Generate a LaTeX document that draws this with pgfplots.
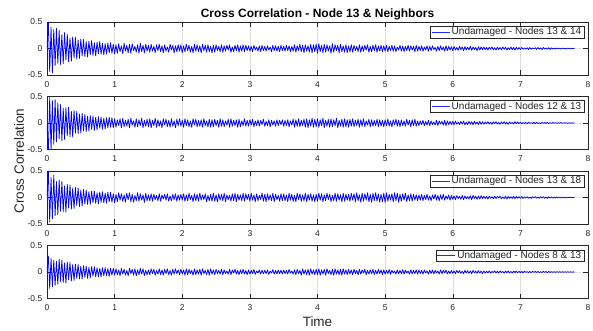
\documentclass[border=0pt]{standalone}
\usepackage{pgfplots}
\pgfplotsset{compat=1.18}
\usepackage{pgfplotstable}
\usepackage{fontspec}
\setmainfont{Liberation Sans}
\setsansfont{Liberation Sans}
\definecolor{axc}{RGB}{38,38,38}
\definecolor{gridc}{RGB}{222,222,222}
\pgfplotstableread{
x a b c d
0.00 .02 -.05 .03 .00
0.02 .50 -.56 .50 .30
0.04 -.44 .48 -.46 -.31
0.06 .40 -.52 .38 .26
0.08 -.46 .42 -.40 -.28
0.10 .36 -.40 .42 .22
0.12 -.32 .44 -.34 -.25
0.14 .38 -.36 .30 .20
0.16 -.28 .38 -.32 -.23
0.18 .34 -.30 .33 .24
0.20 -.30 .35 -.26 -.18
0.22 .26 -.33 .30 .22
0.24 -.29 .28 -.27 -.20
0.26 .30 -.31 .22 .17
0.28 -.22 .29 -.28 -.21
0.30 .27 -.24 .25 .19
0.32 -.25 .30 -.20 -.15
0.34 .20 -.26 .24 .18
0.36 -.24 .22 -.22 -.17
0.38 .22 -.27 .18 .14
0.40 -.18 .24 -.21 -.16
0.42 .21 -.19 .19 .15
0.44 -.20 .22 -.15 -.12
0.46 .16 -.20 .18 .14
0.48 -.19 .17 -.17 -.13
0.50 .18 -.19 .14 .11
0.52 -.14 .18 -.16 -.13
0.54 .17 -.15 .15 .12
0.56 -.15 .16 -.12 -.10
0.58 .13 -.16 .14 .11
0.60 -.16 .13 -.13 -.12
0.62 .14 -.15 .11 .09
0.64 -.12 .14 -.13 -.11
0.66 .15 -.12 .12 .10
0.68 -.13 .13 -.10 -.08
0.70 .11 -.14 .12 .10
0.72 -.14 .11 -.11 -.09
0.74 .12 -.13 .09 .08
0.76 -.10 .12 -.12 -.09
0.78 .13 -.10 .10 .07
0.80 -.11 .11 -.09 -.09
0.82 .10 -.12 .11 .08
0.84 -.12 .09 -.10 -.07
0.86 .09 -.11 .08 .08
0.88 -.11 .10 -.11 -.07
0.90 .10 -.09 .10 .06
0.92 -.08 .11 -.08 -.08
0.94 .11 -.08 .10 .07
0.96 -.09 .10 -.09 -.06
0.98 .08 -.09 .07 .07
1.00 -.10 .08 -.10 -.06
1.02 .07 -.08 .06 .06
1.04 -.09 .06 -.08 -.05
1.06 .09 -.05 .09 .04
1.08 -.06 .08 -.05 -.07
1.10 .05 -.09 .07 .07
1.12 -.10 .09 -.07 -.04
1.14 .10 -.07 .05 .05
1.16 -.05 .05 -.09 -.06
1.18 .06 -.06 .08 .03
1.20 -.08 .07 -.04 -.07
1.22 .08 -.09 .09 .07
1.24 -.09 .09 -.08 -.03
1.26 .09 -.04 .06 .05
1.28 -.04 .04 -.09 -.06
1.30 .04 -.08 .04 .06
1.32 -.07 .08 -.06 -.07
1.34 .07 -.07 .09 .04
1.36 -.09 .06 -.07 -.05
1.38 .10 -.05 .07 .07
1.40 -.06 .09 -.05 -.04
1.42 .06 -.09 .05 .06
1.44 -.08 .05 -.09 -.07
1.46 .08 -.06 .08 .03
1.48 -.05 .07 -.06 -.05
1.50 .06 -.07 .05 .04
1.52 -.07 .08 -.06 -.05
1.54 .08 -.09 .07 .06
1.56 -.05 .05 -.07 -.03
1.58 .04 -.05 .06 .05
1.60 -.08 .09 -.04 -.06
1.62 .07 -.08 .04 .03
1.64 -.04 .06 -.06 -.04
1.66 .08 -.06 .07 .06
1.68 -.06 .04 -.07 -.05
1.70 .05 -.09 .05 .04
1.72 -.08 .08 -.03 -.06
1.74 .07 -.04 .06 .05
1.76 -.05 .07 -.05 -.03
1.78 .03 -.07 .07 .06
1.80 -.07 .05 -.07 -.05
1.82 .08 -.08 .03 .03
1.84 -.03 .08 -.06 -.06
1.86 .06 -.06 .06 .05
1.88 -.08 .04 -.04 -.04
1.90 .05 -.09 .07 .06
1.92 -.06 .07 -.07 -.03
1.94 .07 -.05 .05 .04
1.96 -.05 .08 -.05 -.05
1.98 .07 -.06 .06 .05
2.00 -.08 .05 -.05 -.04
2.02 .05 -.08 .07 .04
2.04 -.06 .08 -.07 -.06
2.06 .08 -.05 .05 .06
2.08 -.04 .06 -.06 -.05
2.10 .06 -.07 .08 .05
2.12 -.07 .04 -.04 -.03
2.14 .04 -.08 .04 .03
2.16 -.08 .08 -.08 -.06
2.18 .08 -.04 .07 .06
2.20 -.05 .07 -.06 -.05
2.22 .07 -.07 .06 .04
2.24 -.06 .05 -.07 -.04
2.26 .05 -.06 .08 .05
2.28 -.08 .06 -.05 -.06
2.30 .08 -.08 .05 .06
2.32 -.04 .08 -.04 -.03
2.34 .06 -.05 .07 .03
2.36 -.07 .04 -.08 -.05
2.38 .07 -.07 .04 .05
2.40 -.06 .07 -.06 -.06
2.42 .04 -.08 .06 .06
2.44 -.08 .06 -.07 -.04
2.46 .06 -.07 .08 .04
2.48 -.07 .07 -.07 -.05
2.50 .07 -.05 .05 .05
2.52 -.04 .05 -.08 -.03
2.54 .04 -.08 .07 .03
2.56 -.06 .08 -.05 -.04
2.58 .07 -.06 .06 .05
2.60 -.07 .06 -.06 -.05
2.62 .05 -.07 .08 .04
2.64 -.05 .04 -.08 -.03
2.66 .06 -.04 .05 .02
2.68 -.03 .07 -.04 -.04
2.70 .07 -.08 .04 .05
2.72 -.07 .08 -.07 -.05
2.74 .03 -.06 .07 .04
2.76 -.06 .05 -.06 -.02
2.78 .06 -.05 .08 .05
2.80 -.04 .06 -.08 -.04
2.82 .07 -.08 .06 .03
2.84 -.07 .07 -.05 -.05
2.86 .05 -.07 .05 .04
2.88 -.05 .04 -.06 -.03
2.90 .07 -.05 .08 .05
2.92 -.06 .08 -.07 -.04
2.94 .06 -.06 .07 .03
2.96 -.04 .05 -.04 -.05
2.98 .05 -.06 .06 .04
3.00 -.05 .06 -.07 -.04
3.02 .04 -.04 .08 .03
3.04 -.06 .07 -.05 -.03
3.06 .06 -.07 .05 .045
3.08 -.03 .04 -.08 -.045
3.10 .03 -.05 .07 .02
3.12 -.05 .06 -.06 -.02
3.14 .05 -.06 .04 .04
3.16 -.06 .05 -.04 -.04
3.18 .06 -.03 .08 .035
3.20 -.04 .07 -.07 -.035
3.22 .04 -.06 .06 .03
3.24 -.05 .03 -.08 -.03
3.26 .05 -.05 .07 .04
3.28 -.03 .06 -.05 -.045
3.30 .03 -.07 .05 .02
3.32 -.06 .05 -.06 -.02
3.34 .06 -.04 .08 .045
3.36 -.04 .04 -.08 -.04
3.38 .05 -.06 .06 .03
3.40 -.05 .06 -.04 -.035
3.42 .04 -.05 .04 .04
3.44 -.06 .05 -.07 -.03
3.46 .06 -.03 .07 .035
3.48 -.04 .06 -.06 -.04
3.50 .04 -.06 .07 .04
3.52 -.05 .05 -.06 -.03
3.54 .06 -.05 .05 .03
3.56 -.04 .06 -.08 -.04
3.58 .05 -.07 .08 .05
3.60 -.06 .04 -.05 -.02
3.62 .04 -.04 .06 .02
3.64 -.05 .07 -.07 -.04
3.66 .07 -.08 .04 .04
3.68 -.07 .06 -.08 -.05
3.70 .05 -.06 .08 .05
3.72 -.04 .08 -.04 -.03
3.74 .08 -.07 .07 .03
3.76 -.06 .05 -.07 -.06
3.78 .06 -.05 .05 .06
3.80 -.08 .07 -.06 -.04
3.82 .07 -.08 .08 .04
3.84 -.05 .08 -.08 -.05
3.86 .05 -.09 .06 .05
3.88 -.07 .06 -.05 -.06
3.90 .08 -.06 .07 .06
3.92 -.08 .09 -.07 -.04
3.94 .07 -.08 .05 .04
3.96 -.06 .07 -.08 -.05
3.98 .08 -.07 .06 .05
4.00 -.09 .08 -.07 -.05
4.02 .09 -.08 .08 .06
4.04 -.06 .06 -.05 -.06
4.06 .06 -.05 .07 .04
4.08 -.08 .09 -.08 -.04
4.10 .08 -.09 .05 .05
4.12 -.07 .05 -.06 -.06
4.14 .07 -.06 .08 .06
4.16 -.05 .07 -.04 -.03
4.18 .05 -.08 .06 .03
4.20 -.09 .08 -.08 -.05
4.22 .09 -.07 .04 .05
4.24 -.07 .06 -.06 -.06
4.26 .07 -.05 .08 .06
4.28 -.04 .09 -.07 -.04
4.30 .06 -.09 .07 .04
4.32 -.08 .05 -.05 -.05
4.34 .08 -.06 .05 .05
4.36 -.06 .07 -.08 -.06
4.38 .05 -.08 .08 .06
4.40 -.07 .08 -.07 -.04
4.42 .07 -.07 .06 .04
4.44 -.08 .06 -.05 -.05
4.46 .05 -.08 .06 .05
4.48 -.06 .07 -.07 -.04
4.50 .07 -.06 .08 .04
4.52 -.07 .08 -.05 -.05
4.54 .06 -.07 .07 .05
4.56 -.04 .05 -.08 -.03
4.58 .04 -.05 .09 .03
4.60 -.06 .07 -.06 -.05
4.62 .07 -.08 .05 .05
4.64 -.07 .06 -.09 -.04
4.66 .05 -.06 .08 .04
4.68 -.05 .08 -.07 -.02
4.70 .06 -.07 .07 .05
4.72 -.03 .04 -.05 -.05
4.74 .07 -.04 .09 .03
4.76 -.07 .07 -.08 -.04
4.78 .04 -.07 .06 .04
4.80 -.06 .06 -.09 -.03
4.82 .06 -.06 .08 .05
4.84 -.04 .05 -.06 -.05
4.86 .07 -.05 .09 .03
4.88 -.07 .07 -.07 -.04
4.90 .05 -.07 .07 .05
4.92 -.05 .06 -.09 -.03
4.94 .06 -.06 .06 .04
4.96 -.06 .05 -.08 -.05
4.98 .05 -.07 .08 .04
5.00 -.05 .06 -.09 -.04
5.02 .06 -.05 .09 .03
5.04 -.06 .07 -.07 -.03
5.06 .04 -.06 .06 .045
5.08 -.04 .04 -.05 -.045
5.10 .06 -.07 .07 .035
5.12 -.05 .06 -.08 -.02
5.14 .05 -.04 .09 .02
5.16 -.06 .07 -.06 -.04
5.18 .03 -.06 .08 .04
5.20 -.03 .05 -.09 -.035
5.22 .06 -.07 .06 .03
5.24 -.05 .06 -.07 -.03
5.26 .05 -.05 .07 .045
5.28 -.06 .04 -.05 -.04
5.30 .04 -.06 .08 .035
5.32 -.04 .07 -.08 -.02
5.34 .06 -.04 .05 .02
5.36 -.05 .05 -.06 -.04
5.38 .05 -.07 .07 .04
5.40 -.03 .06 -.07 -.035
5.42 .04 -.05 .06 .03
5.44 -.06 .07 -.05 -.03
5.46 .06 -.06 .05 .04
5.48 -.05 .04 -.06 -.04
5.50 .04 -.05 .05 .04
5.52 -.04 .04 -.05 -.03
5.54 .05 -.03 .06 .03
5.56 -.05 .05 -.06 -.04
5.58 .03 -.05 .04 .04
5.60 -.03 .03 -.04 -.02
5.62 .05 -.04 .06 .02
5.64 -.05 .05 -.05 -.04
5.66 .04 -.05 .03 .035
5.68 -.04 .04 -.06 -.03
5.70 .05 -.03 .05 .04
5.72 -.02 .02 -.03 -.035
5.74 .02 -.04 .06 .03
5.76 -.05 .05 -.05 -.02
5.78 .04 -.05 .04 .02
5.80 -.04 .04 -.06 -.04
5.82 .05 -.02 .05 .04
5.84 -.03 .03 -.04 -.03
5.86 .03 -.04 .06 .03
5.88 -.05 .05 -.05 -.02
5.90 .05 -.05 .03 .035
5.92 -.04 .04 -.03 -.035
5.94 .04 -.03 .05 .02
5.96 -.03 .03 -.05 -.03
5.98 .035 -.03 .04 .03
6.00 -.04 .03 -.035 -.025
6.02 .04 -.035 .03 .02
6.04 -.03 .035 -.04 -.03
6.06 .02 -.025 .035 .03
6.08 -.035 .02 -.02 -.015
6.10 .04 -.03 .025 .025
6.12 -.02 .03 -.035 -.025
6.14 .03 -.02 .04 .015
6.16 -.04 .035 -.04 -.03
6.18 .035 -.035 .03 .03
6.20 -.03 .015 -.025 -.02
6.22 .025 -.03 .02 .025
6.24 -.025 .03 -.03 -.025
6.26 .04 -.025 .035 .02
6.28 -.035 .025 -.04 -.03
6.30 .03 -.035 .04 .03
6.32 -.02 .035 -.02 -.015
6.34 .02 -.02 .025 .015
6.36 -.04 .02 -.035 -.025
6.38 .035 -.03 .03 .025
6.40 -.03 .03 -.03 -.02
6.42 .03 -.025 .035 .02
6.44 -.025 .025 -.02 -.03
6.46 .03 -.025 .025 .02
6.48 -.025 .02 -.02 -.02
6.50 .02 -.015 .02 .015
6.52 -.03 .025 -.028 -.015
6.54 .025 -.02 .028 .02
6.56 -.015 .015 -.015 -.022
6.58 .03 -.025 .015 .01
6.60 -.025 .02 -.025 -.01
6.62 .015 -.01 .025 .022
6.64 -.03 .025 -.02 -.018
6.66 .025 -.02 .02 .015
6.68 -.02 .01 -.01 -.02
6.70 .02 -.025 .028 .02
6.72 -.025 .02 -.025 -.012
6.74 .03 -.015 .01 .01
6.76 -.015 .025 -.02 -.022
6.78 .025 -.02 .025 .018
6.80 -.03 .015 -.028 -.015
6.82 .015 -.025 .02 .02
6.84 -.02 .02 -.015 -.018
6.86 .03 -.01 .015 .012
6.88 -.025 .01 -.02 -.02
6.90 .02 -.02 .025 .018
6.92 -.03 .025 -.025 -.01
6.94 .025 -.015 .02 .015
6.96 -.015 .02 -.015 -.015
6.98 .018 -.012 .015 .013
7.00 -.02 .015 -.015 -.012
7.02 .02 -.015 .018 .01
7.04 -.015 .01 -.018 -.015
7.06 .012 -.01 .012 .015
7.08 -.01 .012 -.01 -.008
7.10 .015 -.014 .016 .008
7.12 -.02 .015 -.015 -.012
7.14 .02 -.008 .01 .012
7.16 -.015 .008 -.018 -.015
7.18 .01 -.012 .015 .014
7.20 -.008 .012 -.008 -.006
7.22 .015 -.015 .018 .01
7.24 -.018 .015 -.012 -.01
7.26 .018 -.01 .01 .012
7.28 -.012 .006 -.016 -.014
7.30 .012 -.013 .014 .008
7.32 -.02 .012 -.01 -.012
7.34 .02 -.008 .016 .013
7.36 -.01 .01 -.014 -.008
7.38 .01 -.012 .01 .01
7.40 -.015 .014 -.018 -.013
7.42 .015 -.01 .012 .012
7.44 -.018 .008 -.01 -.01
7.46 .012 -.008 .01 .008
7.48 -.01 .01 -.012 -.008
7.50 .008 -.007 .009 .007
7.52 -.01 .008 -.01 -.008
7.54 .01 -.008 .01 .008
7.56 -.008 .006 -.008 -.006
7.58 .007 -.006 .007 .006
7.60 -.01 .008 -.009 -.007
7.62 .008 -.007 .008 .006
7.64 -.006 .005 -.006 -.005
7.66 .006 -.005 .006 .005
7.68 -.009 .007 -.008 -.006
7.70 .007 -.006 .006 .005
7.72 -.007 .004 -.005 -.004
7.74 .005 -.004 .005 .004
7.76 -.006 .005 -.006 -.005
7.78 .004 -.003 .004 .003
7.80 -.004 .003 -.004 -.003
}\data
\pgfplotsset{
  sub/.style={
    width=541pt, height=53pt, scale only axis,
    xmin=0, xmax=8, ymin=-0.5, ymax=0.5,
    xtick={0,1,2,3,4,5,6,7,8}, xticklabels={0,1,2,3,4,5,6,7,8},
    ytick={-0.5,0,0.5}, yticklabels={-0.5,0,0.5},
    tick align=inside, major tick length=5pt,
    xtick pos=both, ytick pos=both,
    xticklabel pos=bottom, yticklabel pos=left,
    axis line style={axc, line width=0.6pt},
    every tick/.style={axc, line width=0.5pt},
    xmajorgrids, ymajorgrids, grid style={gridc, line width=0.5pt},
    tick label style={font=\fontsize{8.5}{10}\selectfont, text=axc},
    xticklabel style={yshift=-3pt},
    yticklabel style={xshift=-1.2pt},
    legend style={at={(1,1)}, anchor=north east, xshift=-4pt, yshift=-4pt,
      draw=axc, line width=0.5pt, fill=white,
      font=\fontsize{10}{11}\selectfont, text=axc,
      inner xsep=1pt, inner ysep=0.5pt,
      nodes={inner xsep=1.5pt, inner ysep=1pt}},
    legend image code/.code={\draw[blue!85!white, line width=0.6pt] (0pt,0pt) -- (18pt,0pt);},
  },
  sig/.style={blue, line width=0.75pt, line join=round},
}
\begin{document}
\begin{tikzpicture}
\useasboundingbox (-47pt,-256pt) rectangle (546pt,75pt);
\begin{axis}[sub, at={(0pt,0pt)},
  title={Cross Correlation - Node 13 \& Neighbors},
  title style={font=\bfseries\fontsize{12}{14}\selectfont, text=black, at={(0.5,1)}, anchor=base, yshift=-2pt}]
\addplot[sig] table[x=x,y=a]{\data};
\addlegendentry{Undamaged - Nodes 13 \& 14}
\end{axis}
\begin{axis}[sub, at={(0pt,-74.5pt)}]
\addplot[sig] table[x=x,y=b]{\data};
\addlegendentry{Undamaged - Nodes 12 \& 13}
\end{axis}
\begin{axis}[sub, at={(0pt,-149pt)}]
\addplot[sig] table[x=x,y=c]{\data};
\addlegendentry{Undamaged - Nodes 13 \& 18}
\end{axis}
\begin{axis}[sub, at={(0pt,-223.5pt)},
  xlabel={Time},
  xlabel style={font=\fontsize{13.5}{15}\selectfont, text=axc, at={(0.5,0)}, anchor=base, yshift=-28pt}]
\addplot[sig] table[x=x,y=d]{\data};
\addlegendentry{Undamaged - Nodes 8 \& 13}
\end{axis}
\node[rotate=90, font=\fontsize{13.5}{15}\selectfont, text=axc] at (-28pt,-86pt) {Cross Correlation};
\end{tikzpicture}
\end{document}
